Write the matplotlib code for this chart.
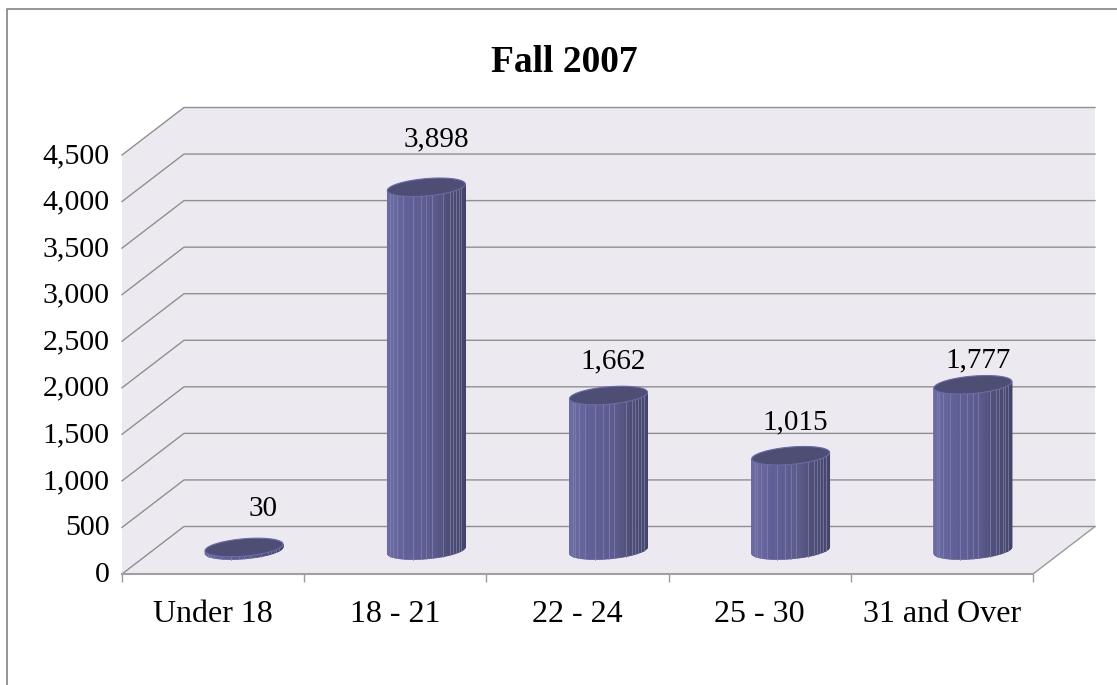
import matplotlib
matplotlib.use("Agg")
import matplotlib.pyplot as plt
import numpy as np
from matplotlib.lines import Line2D
from matplotlib.patches import Polygon
from matplotlib.transforms import ScaledTranslation

plt.rcParams['font.family'] = ['Liberation Serif', 'DejaVu Serif']

categories = ['Under 18', '18 - 21', '22 - 24', '25 - 30', '31 and Over']
values = [30, 3898, 1662, 1015, 1777]
value_labels = ['30', '3,898', '1,662', '1,015', '1,777']
y_ticks = [0, 500, 1000, 1500, 2000, 2500, 3000, 3500, 4000, 4500]
y_tick_labels = ['0', '500', '1,000', '1,500', '2,000', '2,500', '3,000', '3,500', '4,000', '4,500']

W, H = 1117, 685
fig = plt.figure(figsize=(W / 100, H / 100), dpi=100, facecolor='white')
# outer frame is cut off on the right and at the bottom
fig.add_artist(Line2D([6.5 / W, 6.5 / W, 1], [0, 1 - 9 / H, 1 - 9 / H], transform=fig.transFigure,
                      color='#8c8c8c', lw=1.3))
ax = fig.add_axes([122 / W, 1 - 574 / H, 911 / W, 419 / H])
ax.set_xlim(0, 5)
ax.set_ylim(0, 4500)
ax.patch.set_alpha(0)
for s in ax.spines.values():
    s.set_visible(False)

# depth of the fake 3d box, in data units
DX = 62 / 182.2
DY = 47.5 / 0.0931

# walls
ax.add_patch(Polygon([(0, 0), (0, 4500), (DX, 4500 + DY), (5 + DX, 4500 + DY), (5 + DX, DY), (5, 0)],
                     closed=True, facecolor='#ECEAF0', edgecolor='none', clip_on=False, zorder=1))
for v in y_ticks:
    ax.plot([0, DX, 5 + DX], [v, v + DY, v + DY], color='#8f8f8f', lw=1, clip_on=False, zorder=2)
ax.plot([5, 5 + DX], [0, DY], color='#9a9a9a', lw=1, clip_on=False, zorder=2)
ax.plot([0, 5], [0, 0], color='#a0a0a0', lw=1.5, clip_on=False, zorder=2)

# cylinders
RX = 39 / 182.2
RISE = 3.2 / 0.0931
RY = 8.7 / 0.0931
N = 40
ramp_pos = [-1, -0.5, 0.2, 0.55, 1]
ramp_rgb = np.array([[0x6C, 0x6C, 0xA4], [0x60, 0x60, 0x98], [0x5A, 0x5A, 0x8C], [0x4E, 0x4E, 0x76], [0x44, 0x44, 0x68]]) / 255
stripes = [0.05, 0.086, 0.12, 0.16, 0.2, 0.28, 0.43, 0.5, 0.57, 0.67, 0.8, 0.88, 0.93, 0.96]


def rim(cx, base, t):
    return cx + RX * np.cos(t), base + RISE * np.cos(t) + RY * np.sin(t)


for i, v in enumerate(values):
    cx = i + 0.5 + DX / 2
    base = DY / 2
    angles = np.linspace(np.pi, 2 * np.pi, N + 1)
    for a0, a1 in zip(angles[:-1], angles[1:]):
        seg = np.linspace(a0, a1, 4)
        xs, ys = rim(cx, base, seg)
        pts = list(zip(xs, ys)) + list(zip(xs[::-1], ys[::-1] + v))
        mid = (np.cos(a0) + np.cos(a1)) / 2
        col = [np.interp(mid, ramp_pos, ramp_rgb[:, c]) for c in range(3)]
        ax.add_patch(Polygon(pts, closed=True, facecolor=col, edgecolor=col, lw=0.5,
                             clip_on=False, zorder=3 + i))
    for f in stripes:
        t = np.arccos(1 - 2 * f)
        x0, y0 = rim(cx, base, 2 * np.pi - t)
        ax.plot([x0, x0], [y0, y0 + v], color='#8383b4', lw=0.7, alpha=0.7, clip_on=False, zorder=3.2 + i)
    xs, ys = rim(cx, base + v, np.linspace(0, 2 * np.pi, 80))
    ax.add_patch(Polygon(list(zip(xs, ys)), closed=True, facecolor='#4E4E74', edgecolor='#6A6AA8', lw=0.8,
                         clip_on=False, zorder=3.5 + i))

# value labels were placed by hand in the original
label_dx = [19, 10, 5, 5, 5]
label_dy = [38, 48, 34, 33, 24]
for i, v in enumerate(values):
    ax.annotate(value_labels[i], (i + 0.5 + DX / 2, DY / 2 + v),
                xytext=(label_dx[i] * 0.72, label_dy[i] * 0.72), textcoords='offset points',
                ha='center', va='center', fontsize=21, color='black', annotation_clip=False, zorder=20)

ax.set_yticks(y_ticks)
ax.set_yticklabels(y_tick_labels, fontsize=21.5)
ax.tick_params(axis='y', length=0, pad=9)
shift = ScaledTranslation(0, 2 / 100, fig.dpi_scale_trans)
for lab in ax.get_yticklabels():
    lab.set_transform(lab.get_transform() + shift)
ax.set_xticks(np.arange(6))
ax.set_xticklabels([])
ax.set_xticks(np.arange(5) + 0.5, minor=True)
ax.set_xticklabels(categories, minor=True, fontsize=23)
ax.tick_params(axis='x', which='major', length=6, color='#9a9a9a', width=1)
ax.tick_params(axis='x', which='minor', length=0, pad=19)

fig.text(564 / W, 1 - 63 / H, 'Fall 2007', ha='center', va='center', fontsize=27, fontweight='bold')

fig.savefig('out.png', dpi=100)
